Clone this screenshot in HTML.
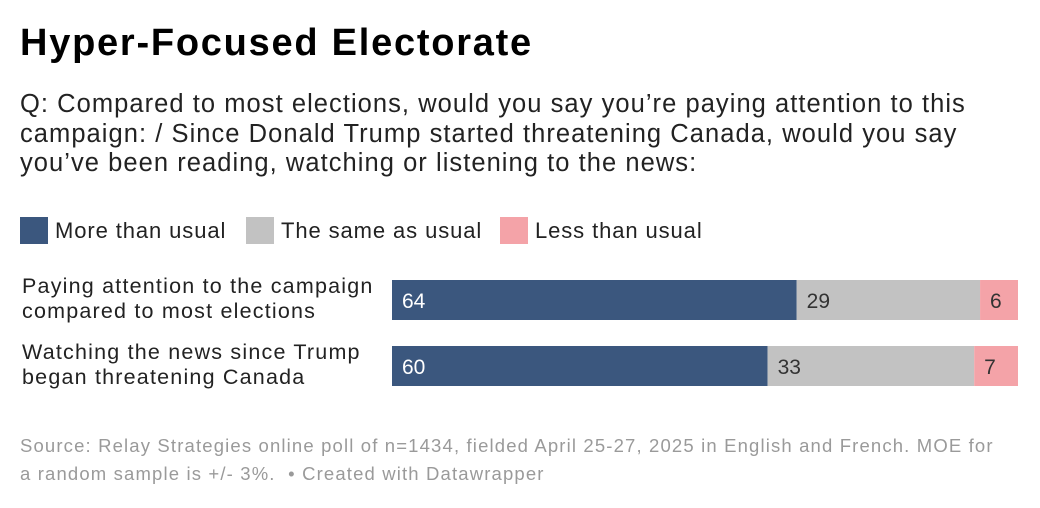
<!DOCTYPE html>
<html><head><meta charset="utf-8"><style>
body{margin:0;width:1040px;height:508px;background:#fff;font-family:"Liberation Sans",sans-serif;position:relative;overflow:hidden}
.a{position:absolute}
h1{position:absolute;left:20px;top:22px;margin:0;font-size:38px;font-weight:bold;color:#000;letter-spacing:1.75px}
.q{left:20px;top:90px;font-size:25.5px;line-height:29.5px;color:#222;width:975px;letter-spacing:1.05px}
.leg{top:217px;font-size:22px;color:#222;display:flex;align-items:center;letter-spacing:0.9px}
.sw{width:28px;height:27px;margin-right:7px;display:inline-block}
.lab{left:22px;font-size:21.5px;line-height:25px;color:#222;letter-spacing:1.2px}
.src{left:20px;top:432px;font-size:18.5px;line-height:28px;color:#9a9a9a;width:975px;letter-spacing:1.15px}
</style></head><body>
<h1>Hyper-Focused Electorate</h1>
<div class="a q">Q: Compared to most elections, would you say you’re paying attention to this campaign: / Since Donald Trump started threatening Canada, would you say you’ve been reading, watching or listening to the news:</div>
<div class="a leg" style="left:20px"><span class="sw" style="background:#3b577e"></span>More than usual</div>
<div class="a leg" style="left:246px"><span class="sw" style="background:#c2c2c2"></span>The same as usual</div>
<div class="a leg" style="left:500px"><span class="sw" style="background:#f4a3a8"></span>Less than usual</div>
<div class="a lab" style="top:274px">Paying attention to the campaign<br>compared to most elections</div>
<div class="a lab" style="top:340px">Watching the news since Trump<br>began threatening Canada</div>
<svg class="a" style="left:0;top:0" width="1040" height="508" id="chart"></svg>
<div class="a src">Source: Relay Strategies online poll of n=1434, fielded April 25-27, 2025 in English and French. MOE for a random sample is +/- 3%.&nbsp; • Created with Datawrapper</div>
<script>
const categories=["campaign","news"];
const moreVals=[64,60];
const sameVals=[29,33];
const lessVals=[6,7];
const colors=["#3b577e","#c2c2c2","#f4a3a8"];
const textColors=["#fff","#333","#333"];
const x0=392,x1=1018,rowTop=[280,346],barH=40;
const svg=document.getElementById('chart');
const ns="http://www.w3.org/2000/svg";
categories.forEach((c,i)=>{
  const vals=[moreVals[i],sameVals[i],lessVals[i]];
  const tot=vals.reduce((a,b)=>a+b,0);
  const xs=v=>x0+(x1-x0)*v/tot;
  let cum=0;
  vals.forEach((v,k)=>{
    const r=document.createElementNS(ns,'rect');
    r.setAttribute('x',xs(cum));r.setAttribute('y',rowTop[i]);
    r.setAttribute('width',xs(cum+v)-xs(cum));r.setAttribute('height',barH);
    r.setAttribute('fill',colors[k]);
    
    
    svg.appendChild(r);
    const t=document.createElementNS(ns,'text');
    t.setAttribute('x',xs(cum)+10);t.setAttribute('y',rowTop[i]+28);
    t.setAttribute('fill',textColors[k]);t.setAttribute('font-size','21');
    t.setAttribute('font-family','Liberation Sans, sans-serif');
    t.textContent=v;
    
    
    svg.appendChild(t);
    cum+=v;
  });
});
</script>
</body></html>
